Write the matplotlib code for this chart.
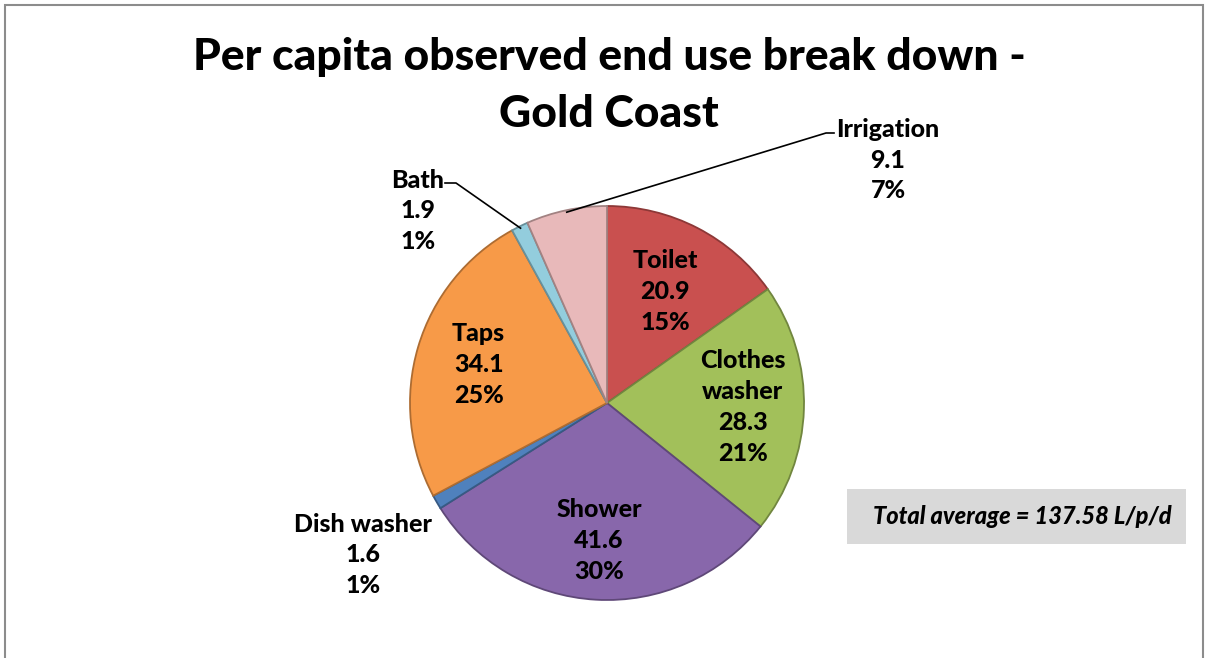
import numpy as np
import matplotlib
matplotlib.use("Agg")
import matplotlib.pyplot as plt
from matplotlib.patches import Rectangle
from matplotlib.colors import to_rgb

plt.rcParams['font.family'] = ['Lato', 'DejaVu Sans']

# data
labels = ['Toilet', 'Clothes\nwasher', 'Shower', 'Dish washer', 'Taps', 'Bath', 'Irrigation']
values = [20.9, 28.3, 41.6, 1.6, 34.1, 1.9, 9.1]
pcts = ['15%', '21%', '30%', '1%', '25%', '1%', '7%']
colors = ['#c9504f', '#a2c05a', '#8867ab', '#4f81bd', '#f79a48', '#93cddd', '#e8b9ba']
title_lines = ['Per capita observed end use break down -', 'Gold Coast']
note = 'Total average = 137.58 L/p/d'

W, H = 1208, 658
fig = plt.figure(figsize=(W / 100, H / 100), dpi=100)
ax = fig.add_axes([0, 0, 1, 1])

cx, cy, R = 607, H - 403, 197
edges = [tuple(c * 0.7 for c in to_rgb(col)) for col in colors]
wedges, _ = ax.pie(values, startangle=90, counterclock=False, center=(cx, cy),
                   radius=R, colors=colors,
                   wedgeprops=dict(linewidth=1.3))
for w, e in zip(wedges, edges):
    w.set_edgecolor(e)

ax.set_xlim(0, W)
ax.set_ylim(0, H)
ax.set_aspect('equal')
ax.axis('off')

fs = 18
ls = 1.42
fw = 'black'
def mid_point(w, frac):
    a = np.deg2rad((w.theta1 + w.theta2) / 2)
    return cx + frac * R * np.cos(a), cy + frac * R * np.sin(a)

# labels inside the slices
inside = {0: 0.64, 1: 0.69, 2: 0.70, 4: 0.68}
for i, frac in inside.items():
    x, y = mid_point(wedges[i], frac)
    ax.text(x, y, f'{labels[i]}\n{values[i]}\n{pcts[i]}', ha='center', va='center',
            fontsize=fs, fontweight=fw, linespacing=ls)

# outside labels
ax.text(363, H - 555, f'{labels[3]}\n{values[3]}\n{pcts[3]}', ha='center', va='center',
        fontsize=fs, fontweight=fw, linespacing=ls)
ax.text(418, H - 211, f'{labels[5]}\n{values[5]}\n{pcts[5]}', ha='center', va='center',
        fontsize=fs, fontweight=fw, linespacing=ls)
ax.text(888, H - 160, f'{labels[6]}\n{values[6]}\n{pcts[6]}', ha='center', va='center',
        fontsize=fs, fontweight=fw, linespacing=ls)

# leader lines
bx, by = mid_point(wedges[5], 0.99)
ax.plot([445, 456, bx], [H - 183, H - 183, by], color='black', lw=1.2)
ix, iy = mid_point(wedges[6], 0.99)
ax.plot([834, 826, ix], [H - 133, H - 133, iy], color='black', lw=1.2)

# title, one text per line
ax.text(609, H - 57, title_lines[0], ha='center', va='center', fontsize=32, fontweight=fw)
ax.text(609, H - 114, title_lines[1], ha='center', va='center', fontsize=32, fontweight=fw)

# total box
ax.add_patch(Rectangle((847, H - 544), 339, 55, facecolor='#d9d9d9', edgecolor='none'))
ax.text(1022, H - 516, note, ha='center', va='center', fontsize=17,
        fontweight=fw, style='italic')

# chart border
ax.add_patch(Rectangle((5, -10), 1198, H - 5 + 10, fill=False,
                       edgecolor='#8c8c8c', lw=1.5, clip_on=False))

fig.savefig('out.png', dpi=100)
